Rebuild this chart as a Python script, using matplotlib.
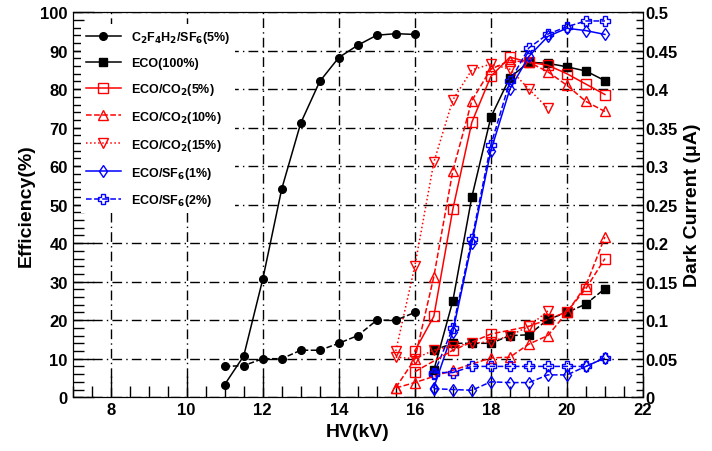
import matplotlib
matplotlib.use('Agg')
import matplotlib.pyplot as plt
from matplotlib.ticker import MultipleLocator

plt.rcParams['font.family'] = ['Liberation Sans', 'DejaVu Sans']
plt.rcParams['font.weight'] = 'bold'
plt.rcParams['mathtext.default'] = 'bf'

# efficiency (%) vs HV (kV)
hv_c2 = [11.0, 11.5, 12.0, 12.5, 13.0, 13.5, 14.0, 14.5, 15.0, 15.5, 16.0]
eff_c2 = [3.3, 10.7, 30.6, 54.1, 71.2, 82.0, 88.2, 91.4, 94.0, 94.4, 94.2]
dc_c2 = [0.040, 0.041, 0.050, 0.050, 0.061, 0.061, 0.070, 0.080, 0.100, 0.100, 0.110]

hv_eco = [16.5, 17.0, 17.5, 18.0, 18.5, 19.0, 19.5, 20.0, 20.5, 21.0]
eff_eco = [7.0, 25.0, 52.0, 72.7, 83.0, 87.0, 86.7, 85.8, 84.7, 82.2]
dc_eco = [0.061, 0.070, 0.070, 0.070, 0.080, 0.081, 0.101, 0.110, 0.121, 0.141]

hv_co5 = [16.0, 16.5, 17.0, 17.5, 18.0, 18.5, 19.0, 19.5, 20.0, 20.5, 21.0]
eff_co5 = [12.0, 21.0, 48.8, 71.4, 83.3, 88.3, 87.0, 86.2, 84.0, 81.3, 78.6]
hv_co5_dc = [16.0, 17.0, 18.0, 19.0, 19.5, 20.0, 20.5, 21.0]
dc_co5 = [0.033, 0.061, 0.082, 0.092, 0.101, 0.111, 0.141, 0.180]

hv_co10 = [15.5, 16.0, 16.5, 17.0, 17.5, 18.0, 18.5, 19.0, 19.5, 20.0, 20.5, 21.0]
eff_co10 = [2.5, 9.9, 31.3, 58.8, 77.0, 85.2, 87.4, 87.0, 84.5, 81.0, 76.8, 74.2]
hv_co10_dc = [15.5, 16.0, 17.0, 18.0, 18.5, 19.0, 19.5, 20.0, 20.5, 21.0]
dc_co10 = [0.012, 0.019, 0.035, 0.051, 0.052, 0.069, 0.080, 0.110, 0.145, 0.208]

hv_co15 = [15.5, 16.0, 16.5, 17.0, 17.5, 18.0, 18.5, 19.0, 19.5]
eff_co15 = [12.0, 34.0, 61.0, 77.2, 85.0, 86.5, 85.2, 80.0, 75.0]
dc_co15 = [0.052, 0.050, 0.061, 0.066, 0.070, 0.072, 0.080, 0.092, 0.112]

hv_sf = [16.5, 17.0, 17.5, 18.0, 18.5, 19.0, 19.5, 20.0, 20.5, 21.0]
eff_sf1 = [2.5, 17.0, 40.0, 64.0, 80.0, 88.5, 93.7, 95.8, 95.2, 94.2]
dc_sf1 = [0.011, 0.010, 0.009, 0.020, 0.019, 0.019, 0.029, 0.029, 0.040, 0.051]
eff_sf2 = [6.0, 18.0, 41.0, 65.5, 82.0, 90.7, 94.3, 96.2, 97.7, 97.7]
dc_sf2 = [0.032, 0.032, 0.040, 0.040, 0.040, 0.040, 0.040, 0.040, 0.040, 0.051]

fig = plt.figure(figsize=(7.12, 4.52), dpi=100)
ax = fig.add_axes([0.102, 0.119, 0.801, 0.852])
ax2 = ax.twinx()

lw = 1.1
ms = 5.5
ax.plot(hv_c2, eff_c2, '-', color='black', marker='o', ms=ms, lw=lw, label=r'C$_2$F$_4$H$_2$/SF$_6$(5%)')
ax.plot(hv_eco, eff_eco, '-', color='black', marker='s', ms=ms, lw=lw, label='ECO(100%)')
ax.plot(hv_co5, eff_co5, '-', color='red', marker='s', mfc='none', ms=7, lw=lw, label=r'ECO/CO$_2$(5%)')
ax.plot(hv_co10, eff_co10, '--', color='red', marker='^', mfc='none', ms=7, lw=lw, label=r'ECO/CO$_2$(10%)')
ax.plot(hv_co15, eff_co15, ':', color='red', marker='v', mfc='none', ms=7, lw=lw, label=r'ECO/CO$_2$(15%)')
ax.plot(hv_sf, eff_sf1, '-', color='blue', marker='d', mfc='none', ms=6, lw=lw, label=r'ECO/SF$_6$(1%)')
ax.plot(hv_sf, eff_sf2, '--', color='blue', marker='P', mfc='none', ms=7, lw=lw, label=r'ECO/SF$_6$(2%)')

ax2.plot(hv_c2, dc_c2, '--', color='black', marker='o', ms=ms, lw=lw)
ax2.plot(hv_eco, dc_eco, '--', color='black', marker='s', ms=ms, lw=lw)
ax2.plot(hv_co5_dc, dc_co5, '--', color='red', marker='s', mfc='none', ms=7, lw=lw)
ax2.plot(hv_co10_dc, dc_co10, '--', color='red', marker='^', mfc='none', ms=7, lw=lw)
ax2.plot(hv_co15, dc_co15, ':', color='red', marker='v', mfc='none', ms=7, lw=lw)
ax2.plot(hv_sf, dc_sf1, '--', color='blue', marker='d', mfc='none', ms=6, lw=lw)
ax2.plot(hv_sf, dc_sf2, '--', color='blue', marker='P', mfc='none', ms=7, lw=lw)

ax.set_xlim(7, 22)
ax.set_ylim(0, 100)
ax2.set_ylim(0, 0.5)

ax.xaxis.set_major_locator(MultipleLocator(2))
ax.xaxis.set_minor_locator(MultipleLocator(0.5))
ax.yaxis.set_major_locator(MultipleLocator(10))
ax.yaxis.set_minor_locator(MultipleLocator(2))
ax2.yaxis.set_minor_locator(MultipleLocator(0.01))
ax2.set_yticks([0, 0.05, 0.1, 0.15, 0.2, 0.25, 0.3, 0.35, 0.4, 0.45, 0.5])
ax2.set_yticklabels(['0', '0.05', '0.1', '0.15', '0.2', '0.25', '0.3', '0.35', '0.4', '0.45', '0.5'])

ax.tick_params(which='major', direction='in', length=15, width=1, labelsize=12)
ax.tick_params(which='minor', direction='in', length=8, width=1)
ax2.tick_params(which='major', direction='in', length=9, width=1, labelsize=12, pad=2)
ax2.tick_params(which='minor', direction='in', length=5, width=1)

ax.grid(True, which='major', color='black', lw=1, linestyle=(0, (7, 3, 1, 3)))

ax.set_xlabel('HV(kV)', fontsize=14, fontweight='bold')
ax.set_ylabel('Efficiency(%)', fontsize=14, fontweight='bold')
ax2.set_ylabel('Dark Current (\u03bcA)', fontsize=14, fontweight='bold', labelpad=4)

# legend sits on a white box over the grid, like the original
leg = ax2.legend(*ax.get_legend_handles_labels(), loc='upper left', bbox_to_anchor=(0.01, 0.975),
                 frameon=True, fontsize=9, handlelength=2.8, labelspacing=0.95,
                 borderaxespad=0.2, fancybox=False, borderpad=0.4)
leg.get_frame().set_edgecolor('none')
leg.get_frame().set_facecolor('white')
leg.get_frame().set_alpha(1)

fig.savefig('out.png', dpi=100)
